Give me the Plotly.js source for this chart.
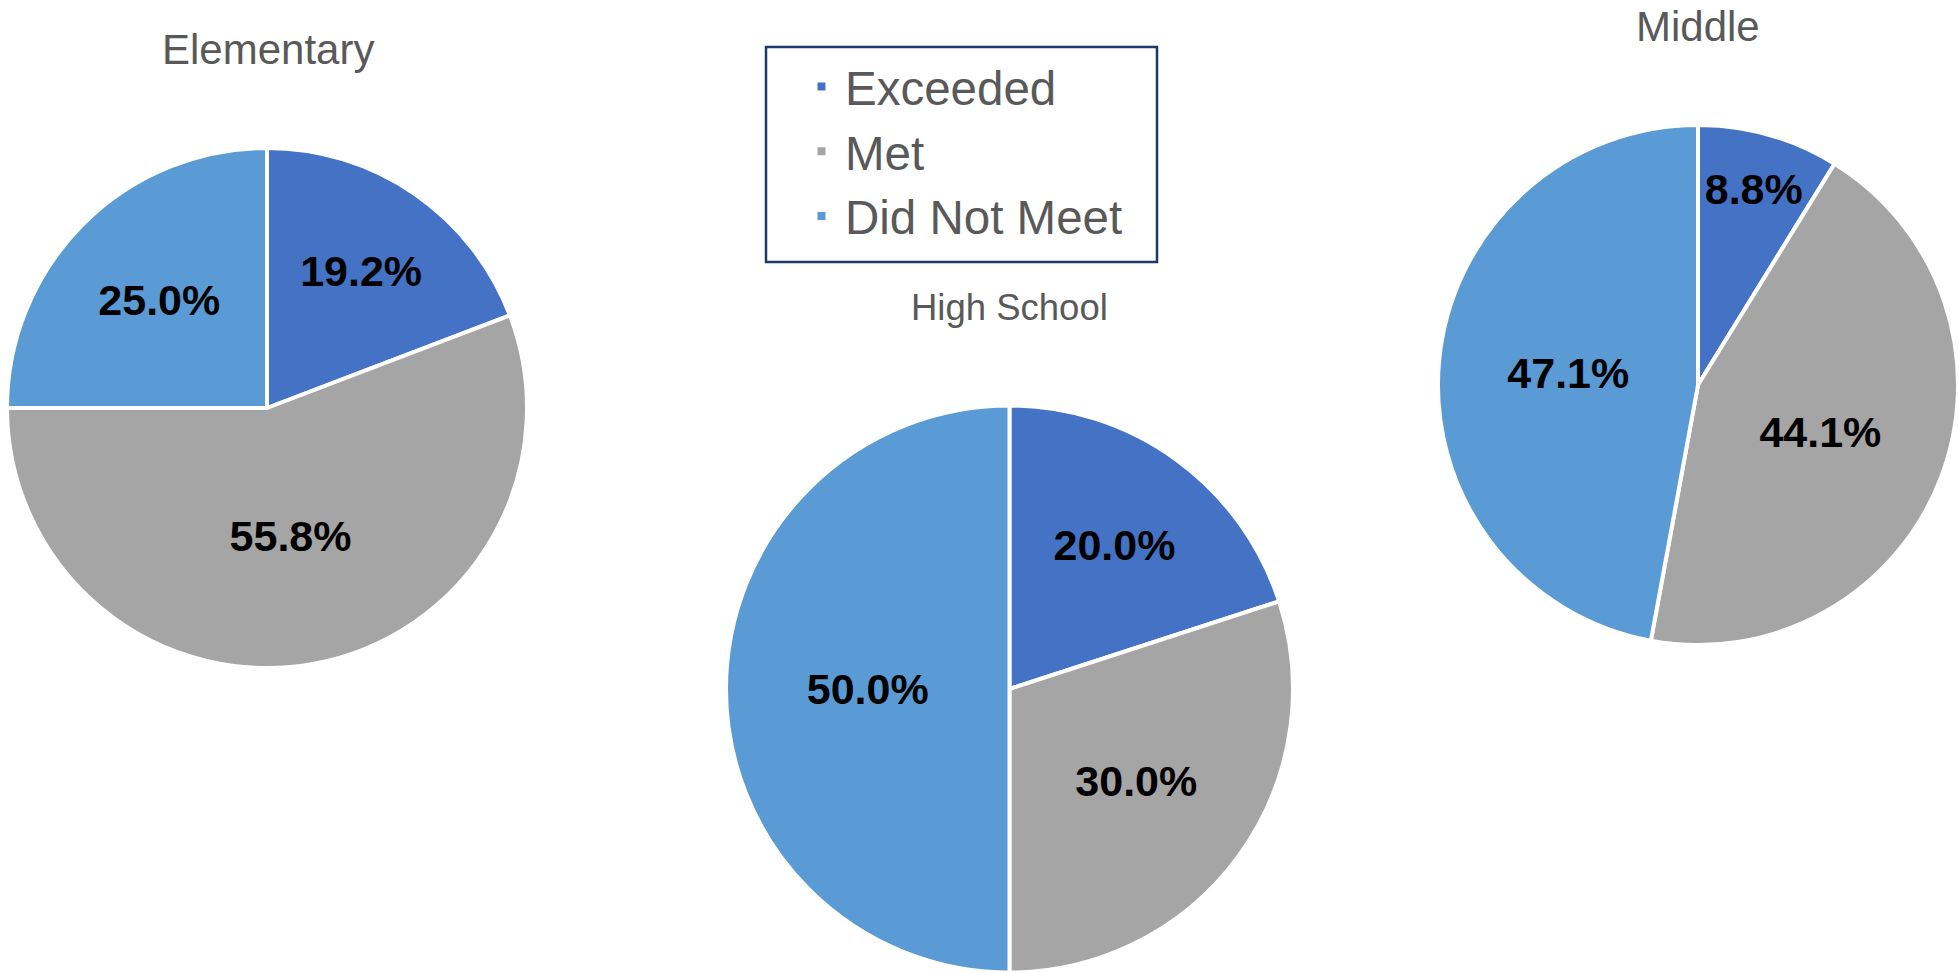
<!DOCTYPE html>
<html>
<head>
<meta charset="utf-8">
<script src="https://cdn.plot.ly/plotly-3.0.1.min.js"></script>
<style>
  html, body { margin: 0; padding: 0; background: #ffffff; }
  #chart { width: 1959px; height: 973px; }
</style>
</head>
<body>
<div id="chart"></div>
<script>
// Categories (legend labels)
const categories = ["Exceeded", "Met", "Did Not Meet"];
const colors = ["#4472C4", "#A5A5A5", "#5B9BD5"];

// Series values (percent of students)
const elementaryValues = [19.2, 55.8, 25.0];
const highSchoolValues = [20.0, 30.0, 50.0];
const middleValues = [8.8, 44.1, 47.1];

// Chart titles
const titles = ["Elementary", "High School", "Middle"];

const W = 1959, H = 973;
function domainFor(cx, cy, r) {
  return {
    x: [(cx - r) / W, (cx + r) / W],
    y: [1 - (cy + r) / H, 1 - (cy - r) / H]
  };
}

function pieTrace(values, dom, name) {
  return {
    type: "pie",
    name: name,
    labels: categories,
    values: values,
    sort: false,
    direction: "clockwise",
    rotation: 0,
    domain: dom,
    marker: { colors: colors, line: { color: "#ffffff", width: 4 } },
    textposition: "inside",
    insidetextorientation: "horizontal",
    texttemplate: "%{value:.1f}%",
    textfont: { family: "Liberation Sans, Arial, sans-serif", size: 43, color: "#000000", weight: "bold" },
    hoverinfo: "label+percent",
    showlegend: true
  };
}

const data = [
  pieTrace(elementaryValues, domainFor(267, 408, 260), titles[0]),
  pieTrace(highSchoolValues, domainFor(1009.5, 689, 283.5), titles[1]),
  pieTrace(middleValues, domainFor(1698, 385, 260), titles[2])
];

const titleFont = { family: "Liberation Sans, Arial, sans-serif", color: "#595959" };

const layout = {
  width: W,
  height: H,
  margin: { l: 0, r: 0, t: 0, b: 0 },
  paper_bgcolor: "#ffffff",
  showlegend: true,
  uniformtext: { mode: "show", minsize: 43 },
  legend: {
    x: 798 / W,
    y: 1 - 49 / H,
    xanchor: "left",
    yanchor: "top",
    bgcolor: "rgba(0,0,0,0)",
    borderwidth: 0,
    itemwidth: 37,
    font: { family: "Liberation Sans, Arial, sans-serif", size: 47.5, color: "#595959" }
  },
  shapes: [
    { type: "rect", xref: "paper", yref: "paper",
      x0: 766 / W, x1: 1157 / W, y0: 1 - 262 / H, y1: 1 - 47 / H,
      line: { color: "#1F3864", width: 2.5 }, fillcolor: "#ffffff", layer: "below" }
  ],
  annotations: [
    { text: titles[0], x: 268 / W, y: 1 - 50 / H, xref: "paper", yref: "paper", showarrow: false,
      xanchor: "center", yanchor: "middle", font: Object.assign({ size: 42 }, titleFont) },
    { text: titles[1], x: 1009.5 / W, y: 1 - 307 / H, xref: "paper", yref: "paper", showarrow: false,
      xanchor: "center", yanchor: "middle", font: Object.assign({ size: 36.5 }, titleFont) },
    { text: titles[2], x: 1698 / W, y: 1 - 27 / H, xref: "paper", yref: "paper", showarrow: false,
      xanchor: "center", yanchor: "middle", font: Object.assign({ size: 42 }, titleFont) }
  ]
};

Plotly.newPlot("chart", data, layout, { displayModeBar: false, staticPlot: true });
</script>
</body>
</html>
